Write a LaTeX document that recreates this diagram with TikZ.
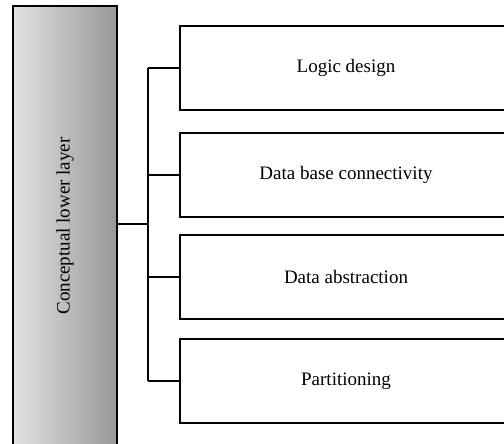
\documentclass[tikz,border=0pt]{standalone}
\usepackage{fontspec}
\setmainfont{Liberation Serif}
\definecolor{barL}{RGB}{226,226,226}
\definecolor{barR}{RGB}{152,152,152}
\begin{document}
\begin{tikzpicture}[x=1pt,y=-1pt,
  txt/.style={font=\fontsize{19}{23}\selectfont},
  itembox/.style={draw=black,line width=1.6pt,fill=white,minimum width=332pt,minimum height=84pt,inner sep=0pt,txt},
  link/.style={draw=black,line width=1.6pt}]
\useasboundingbox (0,0) rectangle (504,444);
\clip (0,0) rectangle (504,444);
\node[draw=black,line width=1.6pt,left color=barL,right color=barR,shading angle=90,
  minimum width=104pt,minimum height=444pt,inner sep=0pt] (bar) at (65,228) {};
\node[txt,rotate=90] (bartext) at (65,226) {Conceptual lower layer};
\node[itembox] (b1) at (346,68) {Logic design};
\node[itembox] (b2) at (346,175) {Data base connectivity};
\node[itembox] (b3) at (346,277) {Data abstraction};
\node[itembox] (b4) at (346,381) {Partitioning};
\coordinate (j) at (148,224);
\draw[link] (bar.east |- j) -- (j);
\draw[link] (j |- b1.west) -- (j |- b4.west);
\draw[link] (j |- b1.west) -- (b1.west);
\draw[link] (j |- b2.west) -- (b2.west);
\draw[link] (j |- b3.west) -- (b3.west);
\draw[link] (j |- b4.west) -- (b4.west);
\end{tikzpicture}
\end{document}
